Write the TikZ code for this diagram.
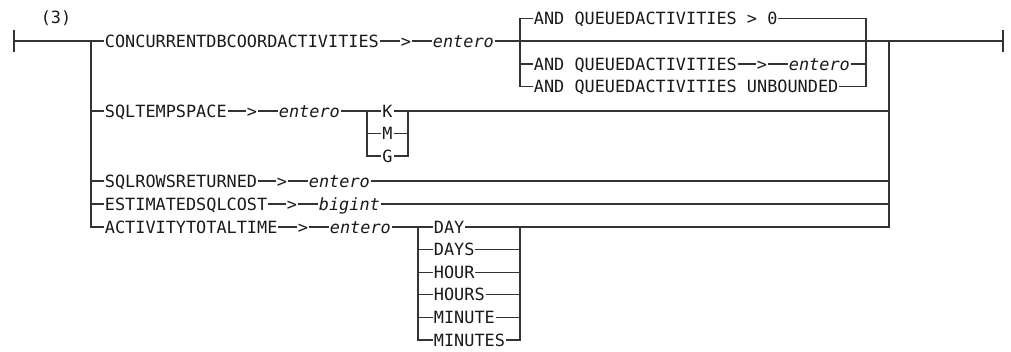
\documentclass[tikz,border=0pt]{standalone}
\usepackage{fontspec}
\newfontfamily\rrmono{DejaVu Sans Mono}
\newcommand\rrfnt{\rrmono\fontsize{12.64pt}{14pt}\selectfont}
\begin{document}
\begin{tikzpicture}[x=0.75pt,y=-0.75pt,line width=0.8pt,color=black!80,
  kw/.style={font=\rrfnt,inner xsep=0.3pt,inner ysep=0pt,text height=9.2pt,text depth=0pt,anchor=west,text=black!90},
  var/.style={kw,font=\rrfnt\itshape},
  gt/.style={kw,anchor=center},
  boldseg/.style={line width=2pt}]
\useasboundingbox (0,0) rectangle (1011,351);

% label
\node[kw,anchor=center] (lbl) at (56,17) {(3)};

% start / end
\coordinate (S) at (14,41);
\coordinate (St) at (14,30);
\coordinate (Sb) at (14,52);
\coordinate (E) at (1003,41);
\coordinate (Et) at (1003,30);
\coordinate (Eb) at (1003,52);
\coordinate (SdA) at (22,41);
\coordinate (SdB) at (32,41);
\coordinate (EdA) at (893,41);
\coordinate (EdB) at (913,41);
\draw (St) -- (Sb);
\draw (Et) -- (Eb);

% left and right rails
\coordinate (L1) at (91,41);
\coordinate (L2) at (91,111);
\coordinate (L3) at (91,181);
\coordinate (L4) at (91,204);
\coordinate (R1) at (889,41);
\coordinate (R2) at (889,111);
\coordinate (R3) at (889,181);
\coordinate (R4) at (889,204);
\coordinate (R5) at (889,227);

% row 1
\node[kw] (c1) at (104,41) {CONCURRENTDBCOORDACTIVITIES};
\node[gt] (g1) at (406,41) {>};
\node[var] (e1) at (432,41) {entero};
\coordinate (J1) at (520,41);
\coordinate (BT) at (520,18.5);
\coordinate (BB) at (520,86.5);
\coordinate (RB) at (866,86.5);
\node[kw] (a1) at (533,18.5) {AND QUEUEDACTIVITIES > 0};
\node[kw] (a2) at (533,64) {AND QUEUEDACTIVITIES};
\node[gt] (g2) at (762,64) {>};
\node[var] (a2e) at (788,64) {entero};
\node[kw] (a3) at (533,86.5) {AND QUEUEDACTIVITIES UNBOUNDED};

\draw (S) -- (L1);
\draw (L1) -- (c1.west);
\draw (c1.east) -- (g1.west);
\draw (g1.east) -- (e1.west);
\draw (e1.east) -- (J1) -- (R1) -- (E);
\draw[boldseg] (SdA) -- (SdB);
\draw[boldseg] (EdA) -- (EdB);
\draw (a1.west) -| (BB) -- (a3.west);
\draw (a2.west -| BB) -- (a2.west);
\draw (a2.east) -- (g2.west);
\draw (g2.east) -- (a2e.west);
\draw (a1.east) -| (RB) -- (a3.east);
\draw (a2e.east) -- (a2e.east -| RB);

% row 2
\node[kw] (s2) at (104,111) {SQLTEMPSPACE};
\node[gt] (g3) at (252,111) {>};
\node[var] (e2) at (278,111) {entero};
\coordinate (KL) at (367,111);
\coordinate (KR) at (408,111);
\node[gt] (uk) at (387.5,111) {K};
\node[gt] (um) at (387.5,133.5) {M};
\node[gt] (ug) at (387.5,156) {G};
\draw (L2) -- (s2.west);
\draw (s2.east) -- (g3.west);
\draw (g3.east) -- (e2.west);
\draw (e2.east) -- (KL) -- (uk.west);
\draw (uk.east) -- (KR) -- (R2);
\draw (KL) |- (ug.west);
\draw (um.west -| KL) -- (um.west);
\draw (KR) |- (ug.east);
\draw (um.east) -- (um.east -| KR);

% row 3
\node[kw] (s3) at (104,181) {SQLROWSRETURNED};
\node[gt] (g4) at (282,181) {>};
\node[var] (e3) at (308,181) {entero};
\draw (L3) -- (s3.west);
\draw (s3.east) -- (g4.west);
\draw (g4.east) -- (e3.west);
\draw (e3.east) -- (R3);

% row 4
\node[kw] (s4) at (104,204) {ESTIMATEDSQLCOST};
\node[gt] (g5) at (292,204) {>};
\node[var] (e4) at (318,204) {bigint};
\draw (L4) -- (s4.west);
\draw (s4.east) -- (g5.west);
\draw (g5.east) -- (e4.west);
\draw (e4.east) -- (R4);

% row 5
\node[kw] (s5) at (104,227) {ACTIVITYTOTALTIME};
\node[gt] (g6) at (303,227) {>};
\node[var] (e5) at (329,227) {entero};
\coordinate (DL) at (418,227);
\coordinate (DR) at (520,227);
\node[kw] (d1) at (433,227) {DAY};
\node[kw] (d2) at (433,249.6) {DAYS};
\node[kw] (d3) at (433,272.2) {HOUR};
\node[kw] (d4) at (433,294.8) {HOURS};
\node[kw] (d5) at (433,317.4) {MINUTE};
\node[kw] (d6) at (433,340) {MINUTES};
\draw (L1) |- (s5.west);
\draw (s5.east) -- (g6.west);
\draw (g6.east) -- (e5.west);
\draw (e5.east) -- (DL) -- (d1.west);
\draw (d1.east) -- (DR) -- (R5) -- (R1);
\draw (DL) |- (d6.west);
\draw (DR) |- (d6.east);
\foreach \n in {d2,d3,d4,d5}{
  \draw (\n.west -| DL) -- (\n.west);
  \draw (\n.east) -- (\n.east -| DR);
}
\end{tikzpicture}
\end{document}
